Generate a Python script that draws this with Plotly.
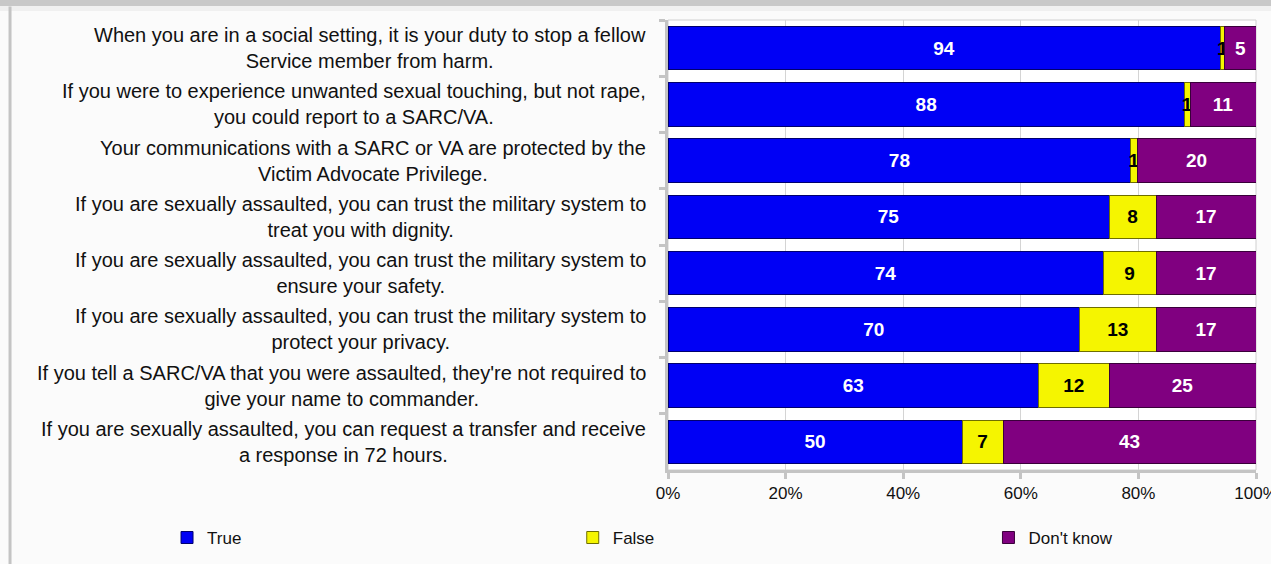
import plotly.graph_objects as go

categories = [
    "When you are in a social setting, it is your duty to stop a fellow<br>Service member from harm.",
    "If you were to experience unwanted sexual touching, but not rape,<br>you could report to a SARC/VA.",
    "Your communications with a SARC or VA are protected by the<br>Victim Advocate Privilege.",
    "If you are sexually assaulted, you can trust the military system to<br>treat you with dignity.",
    "If you are sexually assaulted, you can trust the military system to<br>ensure your safety.",
    "If you are sexually assaulted, you can trust the military system to<br>protect your privacy.",
    "If you tell a SARC/VA that you were assaulted, they're not required to<br>give your name to commander.",
    "If you are sexually assaulted, you can request a transfer and receive<br>a response in 72 hours.",
]
# segment lengths (percent)
true_vals = [93.9, 87.8, 78.7, 75, 74, 70, 63, 50]
false_vals = [0.8, 1.0, 1.1, 8, 9, 13, 12, 7]
dontknow_vals = [5.3, 11.2, 20.2, 17, 17, 17, 25, 43]
# printed (rounded) labels
true_labels = ["94", "88", "78", "75", "74", "70", "63", "50"]
false_labels = ["1", "1", "1", "8", "9", "13", "12", "7"]
dontknow_labels = ["5", "11", "20", "17", "17", "17", "25", "43"]
x_ticks = [0, 20, 40, 60, 80, 100]

ids = list(range(len(categories)))

series = [
    ("True", true_vals, true_labels, "#0000F5", "#00006E", "white", "legend", -0.852),
    ("False", false_vals, false_labels, "#F5F500", "#6E6E00", "black", "legend2", -0.162),
    ("Don't know", dontknow_vals, dontknow_labels, "#800080", "#3A003A", "white", "legend3", 0.545),
]

fig = go.Figure()
for name, vals, labels, col, edge, tcol, lg, _ in series:
    fig.add_trace(go.Bar(
        name=name, y=ids, x=vals, orientation="h", legend=lg,
        marker=dict(color=col, line=dict(color=edge, width=1)),
        text=labels, textposition="inside",
        insidetextanchor="middle", constraintext="none",
        textfont=dict(family="Liberation Sans", size=19, color=tcol, weight="bold"),
        hoverinfo="skip",
    ))

for i, c in enumerate(categories):
    fig.add_annotation(
        x=0, xref="paper", y=i, yref="y", text=c, showarrow=False,
        xanchor="right", yanchor="middle", align="center", xshift=-20,
        font=dict(family="Liberation Sans", size=20, color="#111111"),
    )

# frame decorations
fig.add_shape(type="rect", xref="paper", yref="paper", x0=0, x1=1, y0=0, y1=1,
              line=dict(color="#d0d0d0", width=1), layer="below")
fig.add_shape(type="rect", xref="paper", yref="paper", x0=-1.2, x1=1.1, y0=1.02, y1=1.1,
              line=dict(width=0), fillcolor="#f0f0f0", layer="below")
fig.add_shape(type="line", xref="paper", yref="paper", x0=-1.2, x1=1.1, y0=1.038, y1=1.038,
              line=dict(color="#c8c8c8", width=6))
fig.add_shape(type="line", xref="paper", yref="paper", x0=-1.119, x1=-1.119, y0=1.03, y1=-0.21,
              line=dict(color="#c4c4c4", width=3))

legend_common = dict(orientation="h", y=-0.151, xanchor="left", yanchor="middle",
                     font=dict(size=17), bgcolor="rgba(0,0,0,0)")
fig.update_layout(
    width=1271, height=564,
    margin=dict(l=668, r=15, t=20, b=94, autoexpand=False),
    barmode="stack", bargap=0.226,
    paper_bgcolor="#fbfbfb", plot_bgcolor="white",
    font=dict(family="Liberation Sans", size=17, color="#111111"),
    showlegend=True,
    legend=dict(x=series[0][7], **legend_common),
    legend2=dict(x=series[1][7], **legend_common),
    legend3=dict(x=series[2][7], **legend_common),
    xaxis=dict(range=[0, 100], tickvals=x_ticks, ticktext=[f"{t}%" for t in x_ticks],
               showgrid=True, gridcolor="#d4d4d4", gridwidth=1,
               showline=True, linecolor="#c4c4c4", linewidth=3,
               ticks="outside", ticklen=6, tickcolor="#c4c4c4", tickwidth=3,
               zeroline=False, fixedrange=True, tickfont=dict(size=17),
               ticklabeloverflow="allow", automargin=False),
    yaxis=dict(tickvals=[i + 0.5 for i in ids[:-1]] + [-0.5], ticktext=[""] * len(ids),
               range=[len(ids) - 0.5, -0.5], showgrid=False,
               showline=True, linecolor="#c4c4c4", linewidth=3,
               ticks="outside", ticklen=6, tickcolor="#c4c4c4", tickwidth=3,
               zeroline=False, fixedrange=True, automargin=False),
)

fig.write_html("out.html", config={"displayModeBar": False},
               post_script="document.body.style.margin='0px';")
